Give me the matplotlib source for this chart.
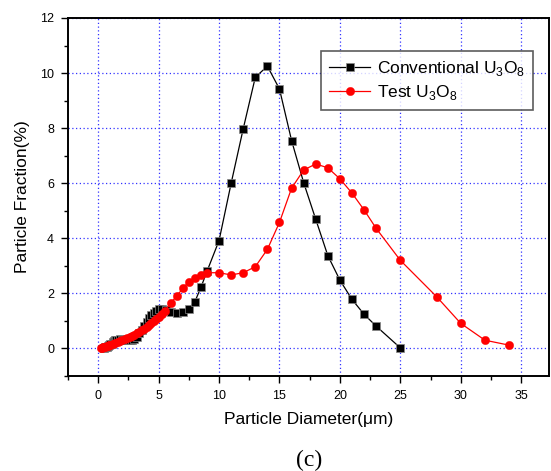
import matplotlib
matplotlib.use("Agg")
import matplotlib.pyplot as plt
from matplotlib.ticker import MultipleLocator

plt.rcParams['font.family'] = ['Liberation Sans', 'DejaVu Sans']

conv_x = [0.5, 0.6, 0.7, 0.8, 0.9, 1.0, 1.1, 1.2, 1.3, 1.4, 1.5, 1.6, 1.8, 2.0, 2.2, 2.4,
          2.6, 2.8, 3.0, 3.2, 3.4, 3.6, 3.8, 4.0, 4.2, 4.4, 4.6, 4.8, 5.0, 5.3, 5.6, 6.0,
          6.5, 7.0, 7.5, 8.0, 8.5, 9.0, 10, 11, 12, 13, 14, 15, 16, 17, 18, 19, 20, 21,
          22, 23, 25]
conv_y = [0.02, 0.04, 0.06, 0.09, 0.12, 0.15, 0.18, 0.22, 0.26, 0.29, 0.31, 0.32, 0.33,
          0.32, 0.30, 0.29, 0.29, 0.30, 0.33, 0.42, 0.55, 0.68, 0.82, 0.96, 1.10, 1.20,
          1.28, 1.35, 1.42, 1.45, 1.40, 1.32, 1.30, 1.33, 1.45, 1.70, 2.22, 2.80, 3.92,
          6.00, 7.98, 9.85, 10.25, 9.42, 7.55, 6.02, 4.69, 3.37, 2.48, 1.78, 1.24, 0.81,
          0.02]

test_x = [0.2, 0.3, 0.4, 0.5, 0.6, 0.7, 0.8, 0.9, 1.0, 1.2, 1.4, 1.6, 1.8, 2.0, 2.2, 2.4,
          2.6, 2.8, 3.0, 3.2, 3.4, 3.6, 3.8, 4.0, 4.2, 4.4, 4.6, 4.8, 5.0, 5.25, 5.5, 6.0,
          6.5, 7.0, 7.5, 8.0, 8.5, 9, 10, 11, 12, 13, 14, 15, 16, 17, 18, 19, 20, 21, 22,
          23, 25, 28, 30, 32, 34]
test_y = [0.02, 0.03, 0.04, 0.05, 0.06, 0.08, 0.10, 0.12, 0.14, 0.17, 0.20, 0.24, 0.28,
          0.31, 0.34, 0.38, 0.42, 0.46, 0.50, 0.55, 0.60, 0.66, 0.72, 0.79, 0.86, 0.93,
          1.00, 1.08, 1.15, 1.25, 1.36, 1.64, 1.91, 2.18, 2.42, 2.56, 2.67, 2.75, 2.75,
          2.67, 2.75, 2.97, 3.60, 4.58, 5.82, 6.48, 6.70, 6.56, 6.16, 5.64, 5.03, 4.36,
          3.20, 1.88, 0.91, 0.30, 0.12]

x_ticks = [0, 5, 10, 15, 20, 25, 30, 35]
y_ticks = [0, 2, 4, 6, 8, 10, 12]

fig = plt.figure(figsize=(5.51, 4.71), dpi=100)
ax = fig.add_axes([68/551, 1-376/471, (549-68)/551, (376-18)/471])

ax.plot(conv_x, conv_y, '-', color='black', lw=0.9, marker='s', ms=5.3,
        mfc='black', mec='#888888', mew=0.5, label='Conventional U$_{\\mathregular{3}}$O$_{\\mathregular{8}}$', zorder=3)
ax.plot(test_x, test_y, '-', color='red', lw=0.9, marker='o', ms=6.0,
        mfc='red', mec='red', mew=0.3, label='Test U$_{\\mathregular{3}}$O$_{\\mathregular{8}}$', zorder=4)

ax.set_xlim(-2.5, 37.3)
ax.set_ylim(-1, 12)
ax.set_xticks(x_ticks)
ax.set_yticks(y_ticks)
ax.xaxis.set_minor_locator(MultipleLocator(2.5))
ax.yaxis.set_minor_locator(MultipleLocator(1))
ax.tick_params(which='both', direction='out', top=False, right=False, labelsize=9, width=1)
ax.tick_params(which='major', length=5, pad=5)
ax.tick_params(which='minor', length=3)
for s in ax.spines.values():
    s.set_linewidth(1.4)

ax.grid(True, which='major', color='#3333ff', linestyle=(0, (1, 2)), linewidth=0.9)
ax.set_axisbelow(True)

ax.set_xlabel('Particle Diameter(μm)', fontsize=12.5, labelpad=7)
ax.set_ylabel('Particle Fraction(%)', fontsize=12.5, labelpad=7)

leg = ax.legend(loc='upper left', bbox_to_anchor=((321-68)/481, 1-(51-18)/358),
                borderaxespad=0, fontsize=12.5, frameon=True, fancybox=False,
                edgecolor='#333333', handlelength=2.4, borderpad=0.45,
                labelspacing=0.3, handletextpad=0.4)
leg.get_frame().set_linewidth(1.2)

fig.text(309/551, 1-460/471, '(c)', fontsize=17, family='Liberation Serif',
         ha='center', va='center')

fig.savefig('out.png', dpi=100)
